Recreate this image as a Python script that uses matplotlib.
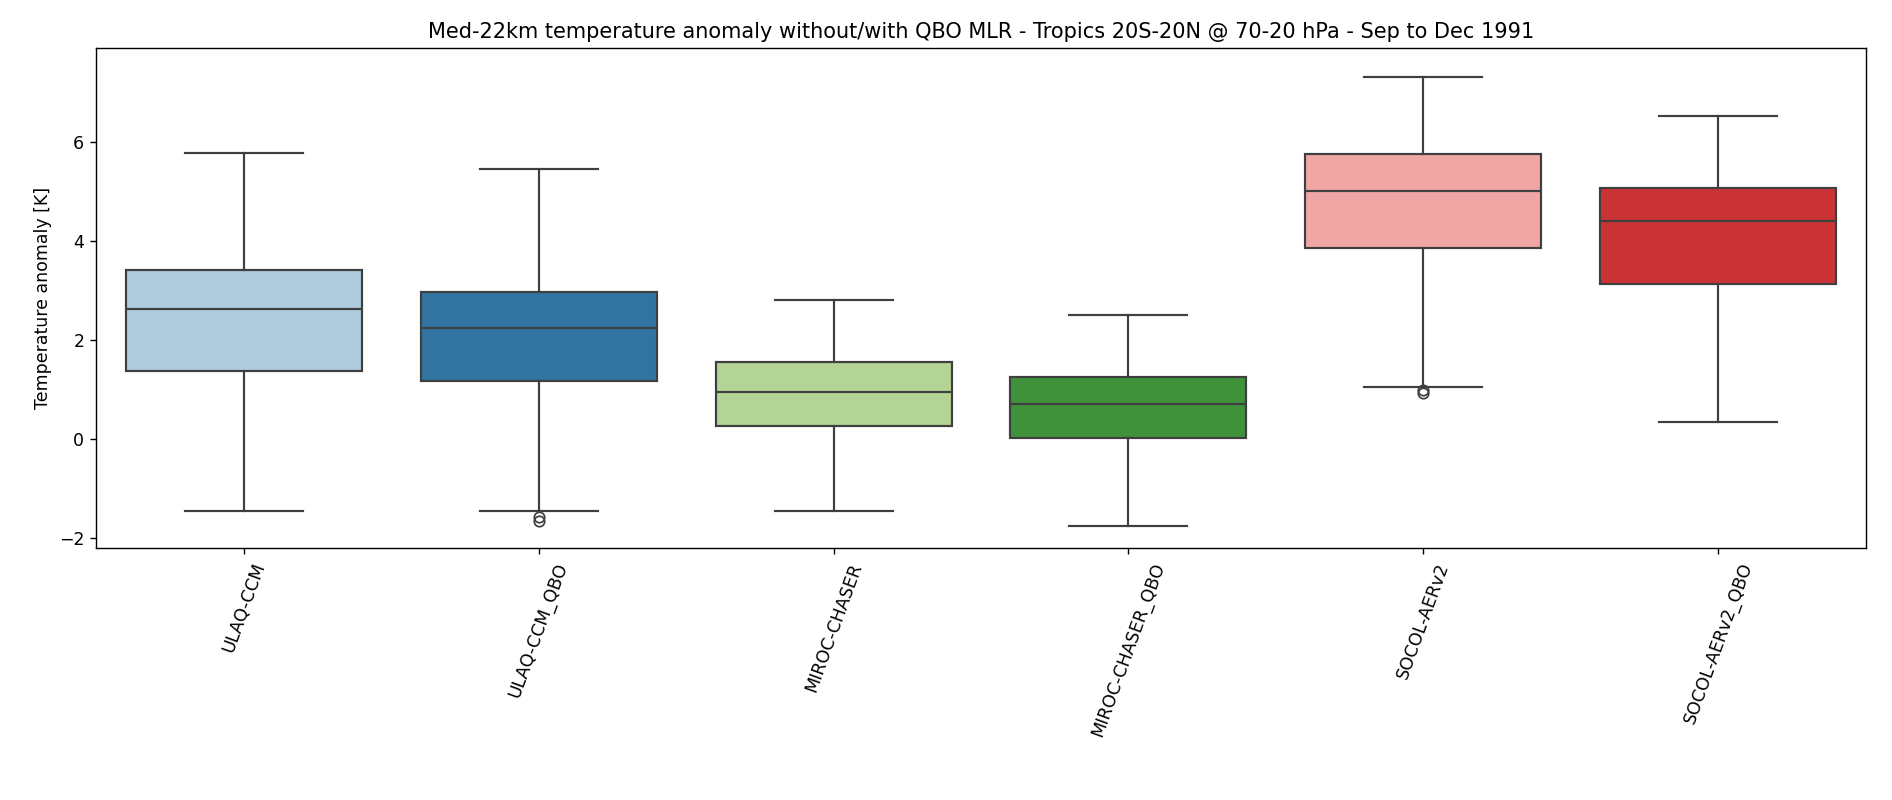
import matplotlib
matplotlib.use("Agg")
import matplotlib.pyplot as plt
import seaborn as sns

models = ["ULAQ-CCM", "ULAQ-CCM_QBO", "MIROC-CHASER", "MIROC-CHASER_QBO",
          "SOCOL-AERv2", "SOCOL-AERv2_QBO"]
whis_lo = [-1.45, -1.45, -1.45, -1.75, 1.05, 0.35]
q1 = [1.37, 1.18, 0.26, 0.03, 3.85, 3.13]
med = [2.63, 2.25, 0.95, 0.70, 5.02, 4.40]
q3 = [3.42, 2.98, 1.55, 1.25, 5.75, 5.07]
whis_hi = [5.78, 5.45, 2.80, 2.50, 7.32, 6.53]
outliers = [[], [-1.58, -1.65], [], [], [0.93, 1.00], []]

colors = [sns.desaturate(c, 0.75) for c in sns.color_palette("Paired", 6)]
stats = [dict(whislo=a, q1=b, med=c, q3=d, whishi=e, fliers=f)
         for a, b, c, d, e, f in zip(whis_lo, q1, med, q3, whis_hi, outliers)]

fig, ax = plt.subplots(figsize=(15.136, 6.4), dpi=125)
lc = "#3f3f3f"
bp = ax.bxp(stats, positions=range(len(models)), widths=0.8, patch_artist=True,
            boxprops=dict(edgecolor=lc, linewidth=1.25),
            medianprops=dict(color=lc, linewidth=1.25),
            whiskerprops=dict(color=lc, linewidth=1.25),
            capprops=dict(color=lc, linewidth=1.25),
            flierprops=dict(marker="o", markerfacecolor="none",
                            markeredgecolor=lc, markersize=6))
for patch, col in zip(bp["boxes"], colors):
    patch.set_facecolor(col)
ax.set_xlim(-0.5, len(models) - 0.5)
ax.set_ylim(-2.2, 7.9)
ax.set_xticks(range(len(models)))
ax.set_xticklabels(models, rotation=70)
ax.set_ylabel("Temperature anomaly [K]")
ax.set_title("Med-22km temperature anomaly without/with QBO MLR - Tropics 20S-20N @ 70-20 hPa - Sep to Dec 1991")
fig.subplots_adjust(left=0.051, right=0.986, top=0.94, bottom=0.315)
fig.savefig("out.png")
